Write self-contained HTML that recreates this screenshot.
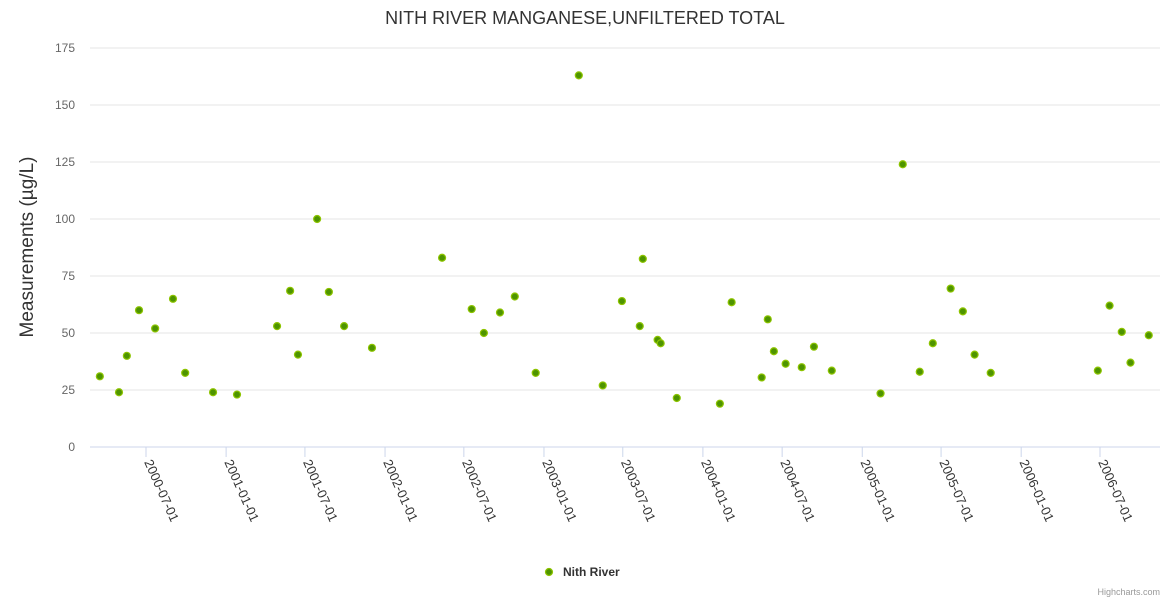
<!DOCTYPE html>
<html><head><meta charset="utf-8"><style>
body{margin:0;background:#fff;font-family:"Liberation Sans",sans-serif}
svg{display:block}
</style></head><body>
<svg id="chart" width="1170" height="600" font-family="Liberation Sans, sans-serif">
<text x="585" y="24" text-anchor="middle" font-size="18" fill="#333">NITH RIVER MANGANESE,UNFILTERED TOTAL</text>
<text transform="translate(33,247) rotate(-90)" text-anchor="middle" font-size="19" fill="#333">Measurements (µg/L)</text>
<g id="grid"></g><g id="xaxis"></g><g id="pts"></g>
<g>
<circle cx="549" cy="572" r="3.5" fill="#4e9400" stroke="#8dc400" stroke-width="1.2"/>
<text x="563" y="576" font-size="12" font-weight="bold" fill="#333">Nith River</text></g>
<text x="1160" y="595" text-anchor="end" font-size="9" fill="#999">Highcharts.com</text>
</svg>
<script>
const yTicks=[0,25,50,75,100,125,150,175];
const xTicks=["2000-07-01","2001-01-01","2001-07-01","2002-01-01","2002-07-01","2003-01-01","2003-07-01","2004-01-01","2004-07-01","2005-01-01","2005-07-01","2006-01-01","2006-07-01"];
const dates=["2000-03-17","2000-04-30","2000-05-18","2000-06-15","2000-07-22","2000-09-01","2000-09-29","2000-12-02","2001-01-26","2001-04-28","2001-05-28","2001-06-15","2001-07-29","2001-08-25","2001-09-29","2001-12-02","2002-05-12","2002-07-19","2002-08-16","2002-09-22","2002-10-26","2002-12-13","2003-03-22","2003-05-16","2003-06-29","2003-08-09","2003-08-16","2003-09-19","2003-09-26","2003-11-02","2004-02-09","2004-03-07","2004-05-15","2004-05-29","2004-06-12","2004-07-09","2004-08-15","2004-09-12","2004-10-23","2005-02-12","2005-04-04","2005-05-13","2005-06-12","2005-07-23","2005-08-20","2005-09-16","2005-10-23","2006-06-26","2006-07-23","2006-08-20","2006-09-09","2006-10-21"];
const values=[31,24,40,60,52,65,32.5,24,23,53,68.5,40.5,100,68,53,43.5,83,60.5,50,59,66,32.5,163,27,64,53,82.5,47,45.5,21.5,19,63.5,30.5,56,42,36.5,35,44,33.5,23.5,124,33,45.5,69.5,59.5,40.5,32.5,33.5,62,50.5,37,49];
const NS="http://www.w3.org/2000/svg";
const t0=Date.parse("2000-07-01"),t1=Date.parse("2006-07-01");
function xs(d){return 146+(Date.parse(d)-t0)/(t1-t0)*954;}
function ys(v){return 447-v*(399/175);}
function mk(tag,a,p){const e=document.createElementNS(NS,tag);for(const k in a)e.setAttribute(k,a[k]);p.appendChild(e);return e;}
const grid=document.getElementById('grid'),xa=document.getElementById('xaxis'),pts=document.getElementById('pts');
yTicks.forEach(v=>{
 const l=mk('line',{x1:90,x2:1160,y1:ys(v),y2:ys(v),stroke:v===0?'#ccd6eb':'#e6e6e6','stroke-width':1},grid);
 
 
 const t=mk('text',{x:75,y:ys(v)+4,'text-anchor':'end','font-size':12,fill:'#666'},grid);
 t.textContent=v;
 
 
});
xTicks.forEach(d=>{
 const x=xs(d);
 const l=mk('line',{x1:x,x2:x,y1:447,y2:457,stroke:'#ccd6eb'},xa);
 
 
 const t=mk('text',{transform:`translate(${x-2},462) rotate(66)`,'font-size':13,fill:'#333'},xa);
 t.textContent=d;
 
 
});
dates.forEach((d,i)=>{
 const c=mk('circle',{cx:xs(d),cy:ys(values[i]),r:3.5,fill:'#4e9400',stroke:'#8dc400','stroke-width':1.2},pts);
 
 
});
</script>
</body></html>
